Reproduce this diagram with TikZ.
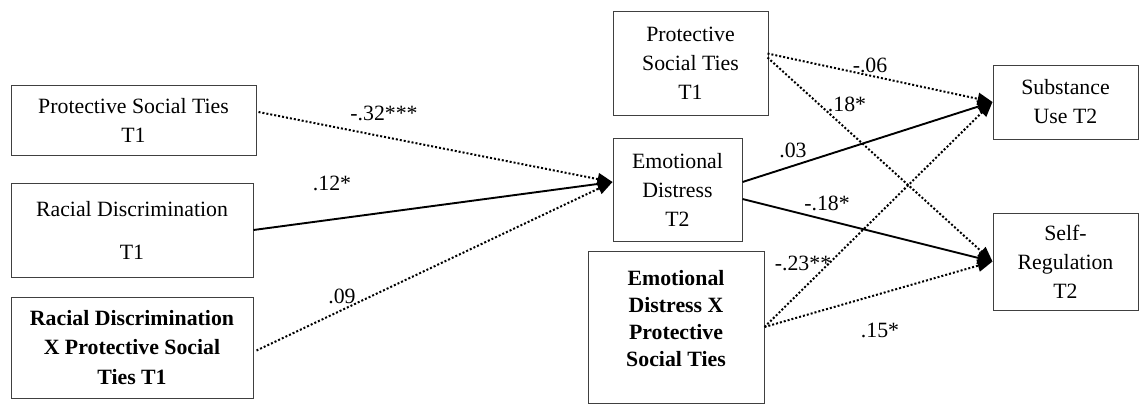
\documentclass[tikz,border=0pt]{standalone}
\usepackage{fontspec}
\setmainfont{Liberation Serif}
\usetikzlibrary{arrows.meta}
\begin{document}
\begin{tikzpicture}[x=1pt,y=-1pt,
  box/.style={draw=black!75, line width=1pt, align=center, inner sep=0pt, font=\fontsize{21.8}{29}\selectfont},
  boldbox/.style={box, font=\fontsize{21.8}{29.5}\selectfont\bfseries},
  lbl/.style={font=\fontsize{21.8}{26}\selectfont, inner sep=0pt},
  solidarrow/.style={line width=1.9pt, -{Triangle[length=15pt,width=12pt]}},
  dotarrow/.style={line width=2pt, dash pattern=on 2pt off 2pt, -{Triangle[length=15pt,width=12pt]}},
]
\useasboundingbox (0,0) rectangle (1139,404);
\fill[white] (0,0) rectangle (1139,404);

% left column
\node[box, minimum width=245pt, minimum height=70pt] (ptsL) at (133.5,120) {Protective Social Ties\\T1};
\node[box, minimum width=242pt, minimum height=94pt] (rd) at (132,230) {Racial Discrimination\\[14pt]T1};
\node[boldbox, minimum width=242pt, minimum height=101pt] (rdx) at (132,347.5) {Racial Discrimination\\X Protective Social\\Ties T1};

% middle column
\node[box, minimum width=155pt, minimum height=103pt] (ptsT) at (690.5,63.5) {Protective\\Social Ties\\T1};
\node[box, minimum width=129pt, minimum height=103pt] (ed) at (677.5,189.5) {Emotional\\Distress\\T2};
\node[boldbox, font=\fontsize{21.8}{27}\selectfont\bfseries, minimum width=176pt, minimum height=152pt] (edx) at (676,327) {Emotional\\Distress X\\Protective\\Social Ties\\[-10pt]\mbox{}};

% right column
\node[box, minimum width=145pt, minimum height=74pt] (su) at (1065.5,102) {Substance\\Use T2};
\node[box, minimum width=145pt, minimum height=97pt] (sr) at (1065.5,261.5) {Self-\\Regulation\\T2};

% connectors to Emotional Distress
\draw[dotarrow] ([xshift=2pt,yshift=8pt]ptsL.east) -- ([yshift=7.5pt]ed.west);
\draw[solidarrow] (rd.east) -- ([yshift=7.5pt]ed.west);
\draw[dotarrow] ([xshift=3pt,yshift=-3pt]rdx.east) -- ([yshift=7.5pt]ed.west);

% connectors to outcomes
\draw[solidarrow] ([yshift=7.5pt]ed.east) -- (su.west);
\draw[solidarrow] ([yshift=-9.5pt]ed.east) -- (sr.west);
\draw[dotarrow] ([xshift=-1pt,yshift=10pt]ptsT.east) -- (su.west);
\draw[dotarrow] ([xshift=-1pt,yshift=6pt]ptsT.east) -- (sr.west);
\draw[dotarrow] (edx.east) -- (su.west);
\draw[dotarrow] (edx.east) -- (sr.west);

% labels
\node[lbl] (l1) at (384,113) {-.32***};
\node[lbl] (l2) at (332,183) {.12*};
\node[lbl] (l3) at (342,296) {.09};
\node[lbl] (l4) at (793,150) {.03};
\node[lbl] (l5) at (827,203) {-.18*};
\node[lbl] (l6) at (870,65) {-.06};
\node[lbl] (l7) at (847,104) {.18*};
\node[lbl] (l8) at (803,263) {-.23**};
\node[lbl] (l9) at (880,330) {.15*};
\end{tikzpicture}
\end{document}
